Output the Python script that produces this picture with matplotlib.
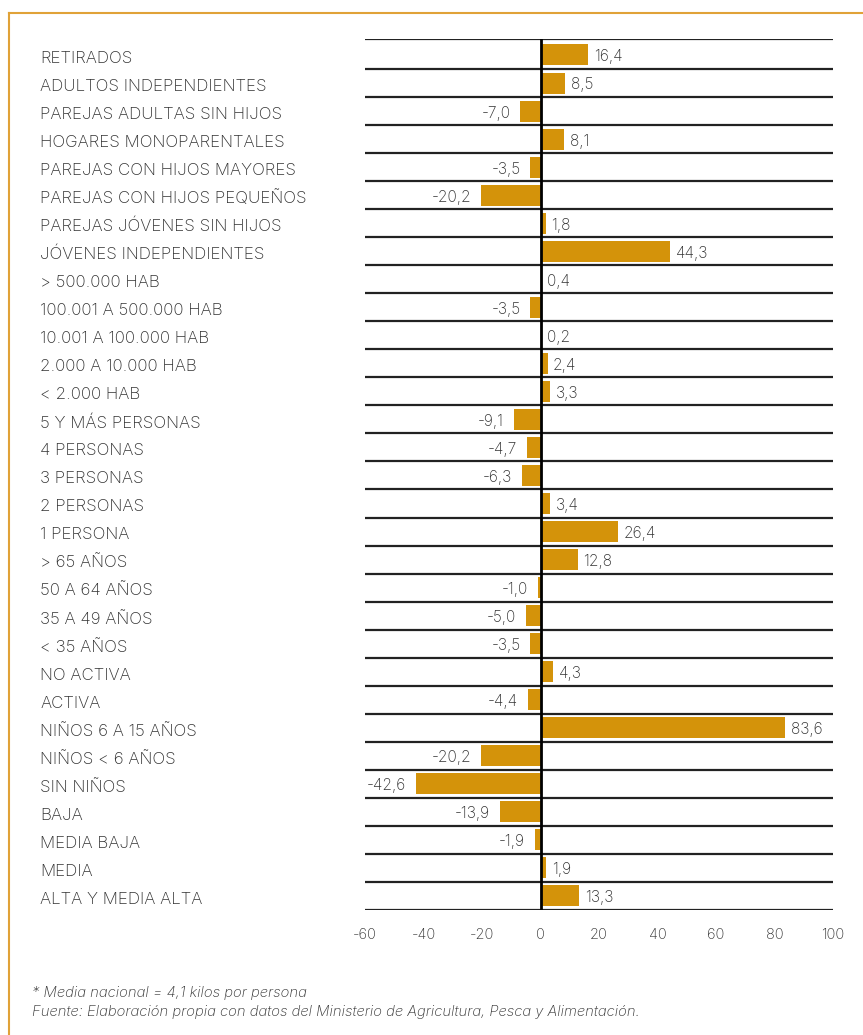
import matplotlib.pyplot as plt
from matplotlib.transforms import blended_transform_factory
from matplotlib.lines import Line2D

categorias = ["RETIRADOS", "ADULTOS INDEPENDIENTES", "PAREJAS ADULTAS SIN HIJOS",
              "HOGARES MONOPARENTALES", "PAREJAS CON HIJOS MAYORES",
              "PAREJAS CON HIJOS PEQUEÑOS", "PAREJAS JÓVENES SIN HIJOS",
              "JÓVENES INDEPENDIENTES", "> 500.000 HAB", "100.001 A 500.000 HAB",
              "10.001 A 100.000 HAB", "2.000 A 10.000 HAB", "< 2.000 HAB",
              "5 Y MÁS PERSONAS", "4 PERSONAS", "3 PERSONAS", "2 PERSONAS",
              "1 PERSONA", "> 65 AÑOS", "50 A 64 AÑOS", "35 A 49 AÑOS",
              "< 35 AÑOS", "NO ACTIVA", "ACTIVA", "NIÑOS 6 A 15 AÑOS",
              "NIÑOS < 6 AÑOS", "SIN NIÑOS", "BAJA", "MEDIA BAJA", "MEDIA",
              "ALTA Y MEDIA ALTA"]
valores = [16.4, 8.5, -7.0, 8.1, -3.5, -20.2, 1.8, 44.3, 0.4, -3.5, 0.2, 2.4,
           3.3, -9.1, -4.7, -6.3, 3.4, 26.4, 12.8, -1.0, -5.0, -3.5, 4.3, -4.4,
           83.6, -20.2, -42.6, -13.9, -1.9, 1.9, 13.3]
ticks_x = [-60, -40, -20, 0, 20, 40, 60, 80, 100]

plt.rcParams['font.family'] = ['Inter', 'DejaVu Sans']
gris = "#333333"
oro = "#D4930A"

fig = plt.figure(figsize=(8.63, 10.35), dpi=100)
ax = fig.add_axes([365 / 863, 1 - 910 / 1035, 468 / 863, 871 / 1035])

n = len(categorias)
pos = list(range(n))
ax.barh(pos, valores, height=0.75, color=oro, zorder=2)

# lineas horizontales entre filas (la primera fila es algo mas alta)
top = -0.57
ax.axhline(top, color="#222222", lw=1.6, zorder=3)
for i in range(1, n + 1):
    ax.axhline(i - 0.5, color="#222222", lw=1.6, zorder=3)
ax.axvline(0, color="black", lw=2, zorder=4)

ax.set_xlim(-60, 100)
ax.set_ylim(n - 0.5, top)
ax.set_xticks(ticks_x)
ax.set_xticklabels([str(t) for t in ticks_x], fontsize=10.5, color=gris,
                   fontweight="light")
ax.tick_params(axis="x", length=0, pad=13)
ax.set_yticks([])
for s in ax.spines.values():
    s.set_visible(False)

# etiquetas de valores
for y, v in zip(pos, valores):
    txt = f"{v:.1f}".replace(".", ",")
    if v >= 0:
        ax.annotate(txt, (v, y + 0.07), xytext=(4, 0), textcoords="offset points",
                    ha="left", va="center", fontsize=11.2, color=gris,
                    fontweight="light")
    else:
        ax.annotate(txt, (v, y + 0.07), xytext=(-7, 0), textcoords="offset points",
                    ha="right", va="center", fontsize=11.2, color=gris,
                    fontweight="light")

# nombres de categorias
tr = blended_transform_factory(fig.transFigure, ax.transData)
for y, c in zip(pos, categorias):
    ax.text(40 / 863, y + 0.12, c, transform=tr, ha="left", va="center",
            fontsize=12.2, color=gris, fontweight="light")

# marco
borde = "#E0A238"
fig.add_artist(Line2D([9 / 863, 1], [1 - 13 / 1035, 1 - 13 / 1035],
                      color=borde, lw=1.5, transform=fig.transFigure))
fig.add_artist(Line2D([9 / 863, 9 / 863], [0, 1 - 13 / 1035],
                      color=borde, lw=1.5, transform=fig.transFigure))

fig.text(32 / 863, 1 - 993 / 1035, "* Media nacional = 4,1 kilos por persona",
         fontsize=10.7, style="italic", color=gris, va="center", fontweight="light")
fig.text(32 / 863, 1 - 1012 / 1035,
         "Fuente: Elaboración propia con datos del Ministerio de Agricultura, Pesca y Alimentación.",
         fontsize=10.7, style="italic", color=gris, va="center", fontweight="light")

fig.savefig("out.png", dpi=100)
